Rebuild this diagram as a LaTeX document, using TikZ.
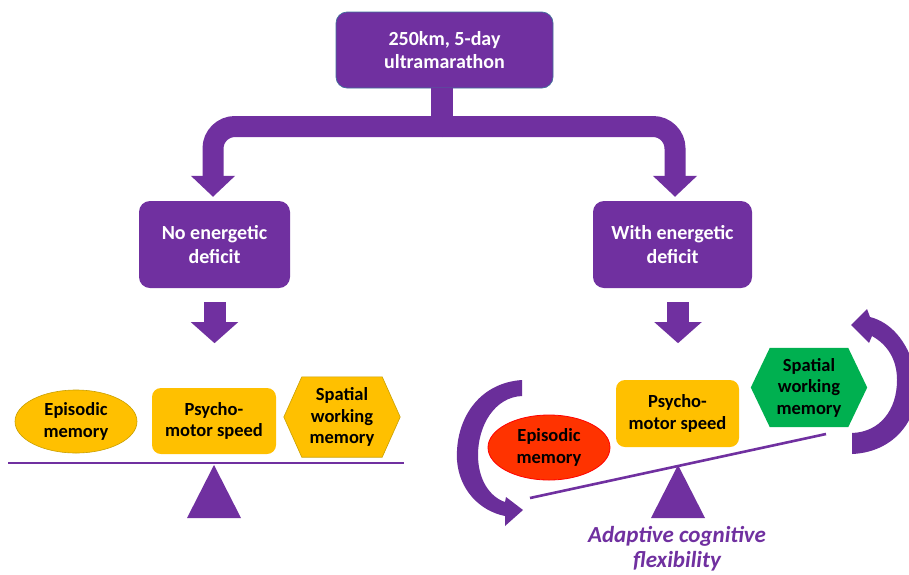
\documentclass[tikz,border=0pt]{standalone}
\usepackage{fontspec}
\setmainfont{Carlito}
\usetikzlibrary{arrows.meta,calc,shapes.geometric}
\definecolor{pur}{HTML}{7030A0}
\definecolor{arcpur}{HTML}{6A2E9A}
\definecolor{yel}{HTML}{FFC000}
\definecolor{yeld}{HTML}{C9A000}
\definecolor{redf}{HTML}{FF3300}
\definecolor{redd}{HTML}{FF0000}
\definecolor{grn}{HTML}{00B050}
\definecolor{edgeblue}{HTML}{41719C}
\tikzset{
  pbox/.style={rectangle, rounded corners=11, fill=pur, text=white, align=center, inner sep=0,
    font=\bfseries\fontsize{20}{23.5}\selectfont},
  itemtxt/.style={align=center, inner sep=0, text=black, font=\bfseries\fontsize{18.5}{21.5}\selectfont},
  ybox/.style={itemtxt, rectangle, rounded corners=9, fill=yel},
  yell/.style={itemtxt, ellipse, fill=yel, draw=yeld, line width=0.6},
  rell/.style={itemtxt, ellipse, fill=redf, draw=redd, line width=0.8},
  hexframe/.style={rectangle, inner sep=0, draw=none},
  flowline/.style={draw=pur, line width=21, rounded corners=22, -{Triangle[width=43pt,length=21pt]}},
  downarrow/.style={draw=pur, line width=22, -{Triangle[width=46pt,length=21pt]}},
  beam/.style={draw=pur, line width=2.6},
  fulcrum/.style={fill=pur},
}
\begin{document}
\begin{tikzpicture}[x=1pt,y=-1pt]
\clip (0,0) rectangle (909,574);
\fill[white] (0,0) rectangle (909,574);

% top box and split connector
\node[pbox, draw=edgeblue, line width=0.7, minimum width=217, minimum height=76] (top) at (444.5,50) {250km, 5-day\\ultramarathon};
\node[pbox, minimum width=151, minimum height=87] (lbox) at (214.5,244.5) {No energetic\\deficit};
\node[pbox, minimum width=159, minimum height=87] (rbox) at (672.5,244.5) {With energetic\\deficit};

\coordinate (j) at (442,126.5);
\draw[pur, line width=22] (top.south -| j) -- (j);
\draw[flowline] (j) -| ($(lbox.north)+(-1.5,-4)$);
\draw[flowline] (j) -| ($(rbox.north)+(2.5,-4)$);

% down arrows
\draw[downarrow] ($(lbox.south)+(0,14)$) -- ($(lbox.south)+(0,55)$);
\draw[downarrow] ($(rbox.south)+(5.5,14)$) -- ($(rbox.south)+(5.5,55)$);

% ---------- left balance ----------
\draw[beam] (8,463) coordinate (lb1) -- (404,463) coordinate (lb2);
\fill[fulcrum] (187,518) -- (241,518) -- (214,465) -- cycle;
\node[yell, minimum width=122, minimum height=63] (ep1) at (76,421.5) {Episodic\\memory};
\node[ybox, minimum width=124, minimum height=66] (ps1) at (214,421) {Psycho-\\motor speed};
\node[hexframe, minimum width=116, minimum height=80] (hx1) at (342,417) {};
\fill[yel, draw=yeld, line width=0.6] (hx1.west) -- ($(hx1.north west)+(18,0)$) -- ($(hx1.north east)+(-18,0)$) -- (hx1.east) -- ($(hx1.south east)+(-18,0)$) -- ($(hx1.south west)+(18,0)$) -- cycle;
\node[itemtxt] (hx1t) at (hx1) {Spatial\\working\\memory};

% ---------- right balance ----------
\draw[beam] (530,498) coordinate (rb1) -- (826,434) coordinate (rb2);
\fill[fulcrum] (651,518) -- (705,518) -- (678,465) -- cycle;
\node[rell, minimum width=122, minimum height=65] (ep2) at (549,447.5) {Episodic\\memory};
\node[ybox, minimum width=123, minimum height=67] (ps2) at (677.5,413.5) {Psycho-\\motor speed};
\node[hexframe, minimum width=116, minimum height=79] (hx2) at (809,387.5) {};
\fill[grn] (hx2.west) -- ($(hx2.north west)+(19,0)$) -- ($(hx2.north east)+(-19,0)$) -- (hx2.east) -- ($(hx2.south east)+(-19,0)$) -- ($(hx2.south west)+(19,0)$) -- cycle;
\node[itemtxt] (hx2t) at (hx2) {Spatial\\working\\memory};

% curved arrows
\fill[arcpur] (522,380) .. controls (478,383) and (455,420) .. (457,460)
  .. controls (459,490) and (480,511) .. (505,516) -- (505,526) -- (523,510) -- (506,497) -- (505,502)
  .. controls (490,497) and (478,480) .. (478,455)
  .. controls (478,425) and (495,397) .. (522,396) -- cycle;
\fill[arcpur] (852,454) .. controls (900,452) and (925,410) .. (915,370)
  .. controls (907,340) and (890,322) .. (870,317) -- (867,309) -- (851,325) -- (869,343) -- (872,336)
  .. controls (888,345) and (897,360) .. (897,380)
  .. controls (897,410) and (880,432) .. (852,433) -- cycle;

\node[align=center, inner sep=0, text=pur, font=\bfseries\itshape\fontsize{23}{25}\selectfont] (acf) at (677,549) {Adaptive cognitive\\flexibility};
\end{tikzpicture}
\end{document}
